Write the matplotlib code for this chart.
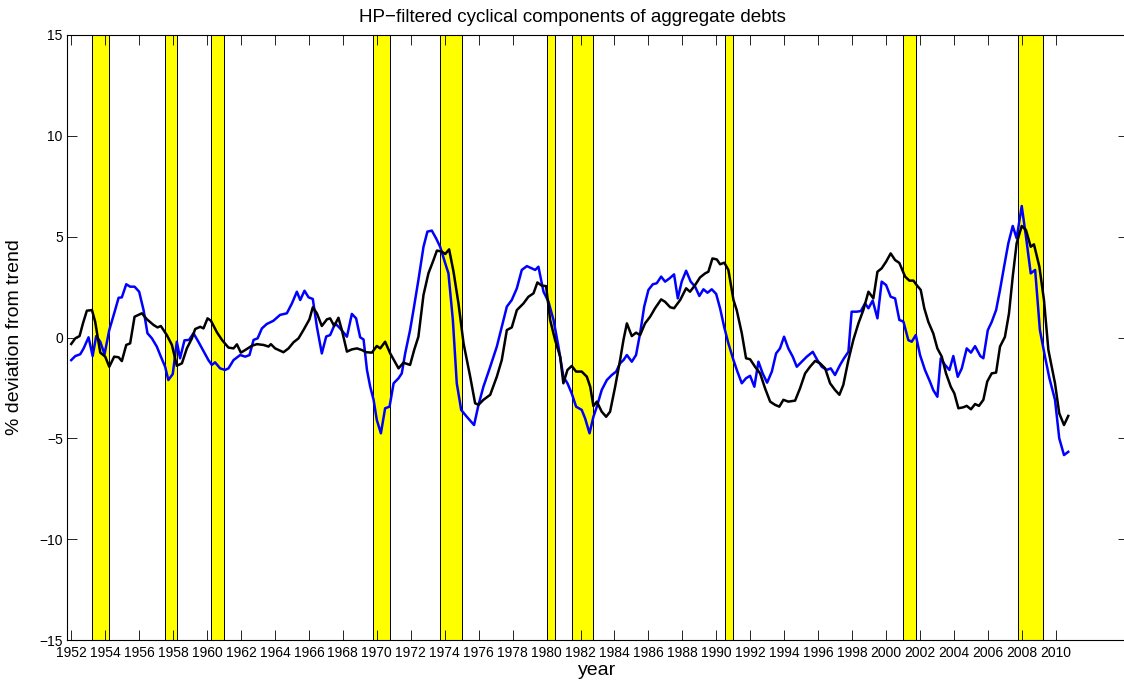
import matplotlib
matplotlib.use("Agg")
import matplotlib.pyplot as plt
import numpy as np

plt.rcParams['font.family'] = ['Liberation Sans', 'DejaVu Sans']

# NBER recessions (start, end), quarterly dates as year + (q-1)/4
rec_start = [1953.25, 1957.5, 1960.25, 1969.75, 1973.75, 1980.0, 1981.5, 1990.5, 2001.0, 2007.75]
rec_end = [1954.25, 1958.25, 1961.0, 1970.75, 1975.0, 1980.5, 1982.75, 1991.0, 2001.75, 2009.25]

# black series
black_year = [
    1952.0, 1952.24, 1952.49, 1952.69, 1952.92, 1953.22, 1953.41, 1953.71, 1954.0, 1954.24,
    1954.53, 1954.79, 1954.98, 1955.24, 1955.47, 1955.73, 1956.16, 1956.46, 1956.85, 1957.08,
    1957.28, 1957.63, 1957.93, 1958.22, 1958.52, 1958.81, 1959.11, 1959.30, 1959.60, 1959.79,
    1960.03, 1960.23, 1960.58, 1960.88, 1961.26, 1961.56, 1961.76, 1961.99, 1962.25, 1962.64,
    1962.94, 1963.33, 1963.62, 1963.76, 1964.01, 1964.50, 1964.80, 1965.09, 1965.39, 1965.68,
    1966.03, 1966.23, 1966.47, 1966.76, 1967.06, 1967.25, 1967.49, 1967.74, 1967.94, 1968.24,
    1968.53, 1968.83, 1969.12, 1969.37, 1969.71, 1970.0, 1970.2, 1970.49, 1970.79, 1971.28,
    1971.57, 1971.96, 1972.2, 1972.45, 1972.75, 1973.04, 1973.34, 1973.54, 1973.83, 1974.03,
    1974.26, 1974.52, 1974.81, 1975.11, 1975.5, 1975.79, 1975.99, 1976.28, 1976.68, 1977.07,
    1977.36, 1977.66, 1977.95, 1978.25, 1978.64, 1978.93, 1979.23, 1979.46, 1979.72, 1979.97,
    1980.21, 1980.5, 1980.8, 1980.99, 1981.23, 1981.48, 1981.74, 1982.07, 1982.37, 1982.57,
    1982.76, 1982.96, 1983.25, 1983.51, 1983.74, 1984.04, 1984.33, 1984.53, 1984.73, 1985.02,
    1985.27, 1985.51, 1985.8, 1986.1, 1986.39, 1986.75, 1986.98, 1987.28, 1987.51, 1987.87,
    1988.22, 1988.45, 1988.75, 1989.04, 1989.34, 1989.53, 1989.77, 1990.03, 1990.22, 1990.47,
    1990.71, 1991.01, 1991.2, 1991.5, 1991.75, 1991.99, 1992.28, 1992.58, 1992.87, 1993.17,
    1993.46, 1993.71, 1993.95, 1994.24, 1994.64, 1994.93, 1995.23, 1995.52, 1995.82, 1996.11,
    1996.41, 1996.7, 1996.99, 1997.25, 1997.48, 1997.78, 1998.07, 1998.37, 1998.66, 1998.96,
    1999.25, 1999.49, 1999.74, 2000.0, 2000.27, 2000.53, 2000.78, 2001.12, 2001.37, 2001.61,
    2001.8, 2002.04, 2002.25, 2002.49, 2002.78, 2003.02, 2003.28, 2003.53, 2003.81, 2004.02,
    2004.26, 2004.55, 2004.75, 2005.0, 2005.24, 2005.47, 2005.73, 2005.96, 2006.22, 2006.48,
    2006.71, 2007.0, 2007.24, 2007.46, 2007.69, 2007.99, 2008.24, 2008.52, 2008.71, 2009.03,
    2009.3, 2009.56, 2009.95, 2010.2, 2010.48, 2010.73]
black_val = [
    -0.32, -0.04, 0.07, 0.70, 1.33, 1.36, 0.78, -0.75, -0.95, -1.45,
    -0.95, -0.98, -1.17, -0.37, -0.29, 1.03, 1.20, 0.90, 0.62, 0.50,
    0.57, 0.12, -0.37, -1.40, -1.28, -0.54, -0.04, 0.42, 0.53, 0.45,
    0.95, 0.83, 0.26, -0.12, -0.50, -0.54, -0.34, -0.75, -0.62, -0.41,
    -0.33, -0.37, -0.45, -0.33, -0.54, -0.73, -0.54, -0.24, -0.04, 0.37,
    0.90, 1.50, 1.20, 0.57, 0.90, 0.95, 0.57, 0.98, 0.37, -0.70,
    -0.59, -0.54, -0.62, -0.73, -0.75, -0.42, -0.54, -0.21, -0.79, -1.53,
    -1.25, -1.36, -0.62, 0.04, 2.11, 3.18, 3.84, 4.31, 4.26, 4.14,
    4.37, 3.26, 1.69, -0.29, -1.94, -3.26, -3.34, -3.09, -2.84, -1.94,
    -1.12, 0.37, 0.50, 1.36, 1.69, 2.02, 2.19, 2.73, 2.57, 2.55,
    0.87, -0.12, -0.95, -2.27, -1.61, -1.41, -1.69, -1.69, -1.94, -2.44,
    -3.40, -3.18, -3.68, -3.93, -3.68, -2.44, -1.12, -0.12, 0.70, 0.07,
    0.24, 0.12, 0.70, 1.03, 1.45, 1.89, 1.77, 1.50, 1.45, 1.86,
    2.44, 2.27, 2.60, 2.98, 3.18, 3.26, 3.92, 3.87, 3.63, 3.71,
    3.35, 1.86, 1.36, 0.21, -1.03, -1.08, -1.45, -1.78, -2.52, -3.18,
    -3.34, -3.43, -3.09, -3.18, -3.13, -2.52, -1.78, -1.45, -1.16, -1.28,
    -1.53, -2.27, -2.60, -2.84, -2.35, -1.12, -0.12, 0.70, 1.36, 2.27,
    1.94, 3.26, 3.43, 3.76, 4.17, 3.84, 3.70, 3.02, 2.82, 2.82,
    2.60, 2.36, 1.45, 0.77, 0.20, -0.54, -0.95, -1.78, -2.44, -2.77,
    -3.51, -3.46, -3.39, -3.56, -3.30, -3.39, -3.09, -2.18, -1.78, -1.74,
    -0.45, 0.03, 1.20, 3.02, 4.67, 5.53, 5.33, 4.50, 4.62, 3.51,
    1.86, -0.62, -2.27, -3.76, -4.34, -3.89]

# blue series
blue_year = [
    1952.0, 1952.24, 1952.53, 1952.73, 1953.02, 1953.26, 1953.47, 1953.71, 1953.96, 1954.24,
    1954.53, 1954.79, 1954.98, 1955.24, 1955.47, 1955.73, 1956.0, 1956.26, 1956.49, 1956.75,
    1957.04, 1957.28, 1957.53, 1957.72, 1957.98, 1958.22, 1958.41, 1958.67, 1958.94, 1959.2,
    1959.49, 1959.79, 1960.08, 1960.28, 1960.47, 1960.77, 1961.06, 1961.26, 1961.56, 1961.95,
    1962.25, 1962.5, 1962.74, 1962.98, 1963.23, 1963.52, 1963.91, 1964.3, 1964.7, 1965.0,
    1965.29, 1965.49, 1965.74, 1965.98, 1966.23, 1966.47, 1966.76, 1967.02, 1967.25, 1967.55,
    1967.84, 1968.24, 1968.53, 1968.78, 1969.02, 1969.22, 1969.42, 1969.61, 1969.81, 1970.0,
    1970.24, 1970.49, 1970.75, 1970.99, 1971.28, 1971.47, 1971.67, 1971.96, 1972.16, 1972.45,
    1972.75, 1972.98, 1973.24, 1973.49, 1973.73, 1974.03, 1974.22, 1974.48, 1974.71, 1974.97,
    1975.3, 1975.73, 1975.99, 1976.28, 1976.68, 1977.07, 1977.36, 1977.66, 1977.95, 1978.25,
    1978.54, 1978.84, 1979.13, 1979.33, 1979.52, 1979.82, 1980.11, 1980.41, 1980.7, 1980.99,
    1981.23, 1981.48, 1981.74, 1982.07, 1982.27, 1982.53, 1982.76, 1982.96, 1983.25, 1983.55,
    1983.84, 1984.1, 1984.33, 1984.53, 1984.73, 1985.02, 1985.27, 1985.51, 1985.75, 1986.0,
    1986.26, 1986.49, 1986.75, 1986.98, 1987.24, 1987.51, 1987.73, 1987.96, 1988.22, 1988.49,
    1988.75, 1989.0, 1989.24, 1989.48, 1989.73, 1989.99, 1990.22, 1990.46, 1990.71, 1991.01,
    1991.24, 1991.5, 1991.75, 1991.99, 1992.24, 1992.48, 1992.73, 1992.99, 1993.27, 1993.52,
    1993.75, 1993.99, 1994.24, 1994.5, 1994.74, 1995.03, 1995.33, 1995.68, 1995.95, 1996.21,
    1996.5, 1996.74, 1996.99, 1997.29, 1997.52, 1997.78, 1997.97, 1998.27, 1998.51, 1998.76,
    1998.96, 1999.21, 1999.49, 1999.74, 2000.0, 2000.27, 2000.53, 2000.78, 2001.02, 2001.31,
    2001.51, 2001.75, 2002.0, 2002.29, 2002.59, 2002.78, 2003.02, 2003.22, 2003.47, 2003.73,
    2003.96, 2004.22, 2004.46, 2004.75, 2005.0, 2005.24, 2005.55, 2005.73, 2005.99, 2006.22,
    2006.48, 2006.71, 2006.95, 2007.2, 2007.46, 2007.69, 2007.99, 2008.24, 2008.52, 2008.78,
    2009.06, 2009.36, 2009.62, 2009.95, 2010.2, 2010.48, 2010.73]
blue_val = [
    -1.12, -0.92, -0.83, -0.54, 0.01, -0.92, 0.07, -0.21, -0.83, 0.37,
    1.20, 1.97, 1.99, 2.64, 2.52, 2.52, 2.27, 1.36, 0.21, -0.04,
    -0.45, -0.95, -1.45, -2.11, -1.81, -0.21, -1.03, -0.14, -0.12, 0.21,
    -0.21, -0.67, -1.12, -1.36, -1.23, -1.53, -1.61, -1.53, -1.12, -0.87,
    -0.95, -0.87, -0.12, -0.04, 0.45, 0.67, 0.83, 1.12, 1.20, 1.69,
    2.27, 1.86, 2.32, 1.99, 1.91, 0.53, -0.79, 0.05, 0.12, 0.70,
    0.45, 0.04, 1.17, 0.95, 0.01, -0.10, -1.61, -2.44, -3.09, -4.09,
    -4.75, -3.51, -3.43, -2.27, -2.02, -1.78, -0.79, 0.37, 1.36, 2.85,
    4.50, 5.25, 5.30, 4.92, 4.50, 3.68, 3.18, 0.87, -2.27, -3.59,
    -3.93, -4.34, -3.34, -2.44, -1.45, -0.45, 0.53, 1.53, 1.86, 2.44,
    3.35, 3.54, 3.43, 3.35, 3.51, 2.27, 1.78, 0.87, -0.45, -1.94,
    -2.27, -2.77, -3.43, -3.59, -4.01, -4.75, -3.93, -3.43, -2.60, -2.11,
    -1.86, -1.69, -1.28, -1.12, -0.87, -1.20, -0.87, 0.21, 1.53, 2.36,
    2.64, 2.69, 3.02, 2.77, 2.93, 3.13, 1.94, 2.77, 3.31, 2.77,
    2.52, 2.06, 2.39, 2.22, 2.39, 2.16, 1.45, 0.53, -0.29, -1.12,
    -1.69, -2.27, -2.02, -1.90, -2.44, -1.20, -1.78, -2.24, -1.69, -0.79,
    -0.54, 0.04, -0.54, -0.95, -1.45, -1.20, -0.95, -0.71, -1.12, -1.45,
    -1.61, -1.53, -1.86, -1.36, -1.03, -0.71, 1.28, 1.28, 1.31, 1.69,
    1.45, 1.83, 0.95, 2.77, 2.60, 2.02, 1.94, 0.87, 0.79, -0.13,
    -0.21, 0.12, -0.87, -1.61, -2.20, -2.61, -2.94, -1.03, -1.36, -1.61,
    -0.92, -1.95, -1.53, -0.54, -0.75, -0.43, -0.92, -1.03, 0.36, 0.77,
    1.36, 2.36, 3.51, 4.67, 5.53, 4.92, 6.52, 5.00, 3.18, 3.35,
    0.37, -0.95, -2.02, -3.09, -5.00, -5.83, -5.67]

x_ticks = list(range(1952, 2011, 2))
y_ticks = [-15, -10, -5, 0, 5, 10, 15]

W, H = 1124, 685
fig = plt.figure(figsize=(W / 100, H / 100), dpi=100)
ax = fig.add_axes([67 / W, 45 / H, 1061 / W, 605 / H])

for s, e in zip(rec_start, rec_end):
    ax.axvspan(s, e, facecolor='#ffff00', edgecolor='k', lw=0.7, zorder=1)

ax.plot(blue_year, blue_val, color='#0000ff', lw=1.8, zorder=3)
ax.plot(black_year, black_val, color='k', lw=1.8, zorder=4)

ax.set_xlim(1951.75, 2014.25)
ax.set_ylim(-15, 15)
ax.set_xticks(x_ticks)
ax.set_yticks(y_ticks)
ax.tick_params(direction='in', length=7, width=0.6, top=True, right=True,
               labelsize=10)
ax.tick_params(axis='x', pad=4)
ax.tick_params(axis='y', pad=3)
for sp in ax.spines.values():
    sp.set_linewidth(0.8)
# right border falls just outside the picture in the original
ax.spines['right'].set_visible(False)

ax.set_xlabel('year', fontsize=14, labelpad=2)
ax.set_ylabel('% deviation from trend', fontsize=14, labelpad=12)
fig.text(572 / W, 1 - 22 / H, 'HP\u2212filtered cyclical components of aggregate debts',
         ha='center', va='baseline', fontsize=13.5)

fig.savefig('out.png', dpi=100)
